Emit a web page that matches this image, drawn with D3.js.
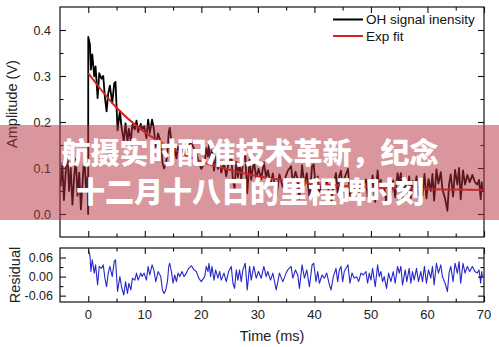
<!DOCTYPE html>
<html><head><meta charset="utf-8">
<script src="https://cdn.jsdelivr.net/npm/d3@7/dist/d3.min.js"></script>
<style>html,body{margin:0;padding:0;background:#fff;}svg{display:block;}</style>
</head><body>
<script>
// ---- data ----
const xTicks = [0,10,20,30,40,50,60,70];
const xMinor = [5,15,25,35,45,55,65];
const yTopTicks = [0.0,0.1,0.2,0.3,0.4];
const yTopMinor = [0.05,0.15,0.25,0.35];
const yTopLabels = ["0.0","0.1","0.2","0.3","0.4"];
const yBotTicks = [-0.06,0.0,0.06];
const yBotMinor = [-0.03,0.03];
const yBotLabels = ["-0.06","0.00","0.06"];
const legendNames = ["OH signal inensity","Exp fit"];
const titleLines = ["航摄实时配准技术革新，纪念","十二月十八日的里程碑时刻"];

const preT = [-4.9,-4.6,-4.3,-4.0,-3.7,-3.4,-3.1,-2.8,-2.5,-2.2,-1.9,-1.6,-1.3,-1.0,-0.7,-0.4,-0.15,-0.02];
const preV = [0.06,0.11,0.03,0.09,0.14,0.05,0.10,0.02,0.08,0.12,0.04,0.09,0.01,0.07,0.13,0.05,0.08,0.0];

const resT = [0,0.29,0.47,0.71,1.06,1.29,1.65,1.94,2.35,2.65,
2.94,3.24,3.53,3.82,4.24,4.59,4.82,5.18,5.59,5.88,
6.29,6.59,6.94,7.18,7.53,7.82,8.24,8.53,8.82,9.29,
9.53,9.88,10.29,10.59,10.88,11.29,11.59,11.94,12.35,12.82,
13.12,13.41,13.71,14.0,14.24,14.41,14.71,15.0,15.29,15.59,
15.88,16.18,16.59,16.94,17.35,17.76,18.24,18.71,19.12,19.53,
20.0,20.59,20.88,21.18,21.35,21.65,21.88,22.24,22.53,22.94,
23.24,23.53,24.0,24.41,24.82,25.29,25.59,25.88,26.18,26.47,
26.76,27.06,27.35,27.76,28.12,28.53,28.82,29.29,29.71,30.12,
30.59,31.06,31.47,31.76,32.24,32.65,
33.24,33.82,34.41,35.0,35.29,35.88,36.18,36.65,37.06,37.35,
37.82,38.24,38.65,39.12,39.59,39.88,40.29,40.59,40.88,41.35,
41.76,42.18,42.65,42.94,43.35,43.82,44.12,44.41,44.71,45.0,
45.29,45.59,45.94,46.29,46.65,47.06,47.47,47.82,48.24,48.65,
49.12,49.41,49.71,50.0,50.29,50.76,51.18,51.47,51.76,52.06,
52.35,52.76,53.12,53.53,53.94,54.29,54.71,55.0,55.29,55.59,
56.06,56.35,56.76,57.06,57.35,57.65,58.06,58.41,58.82,59.12,
59.47,59.82,60.18,60.59,60.88,61.18,61.59,61.94,62.35,62.65,
63.12,63.53,63.82,64.12,64.53,64.88,65.29,65.59,65.88,66.29,
66.65,67.06,67.47,67.94,68.41,68.82,69.12,69.41,69.59,69.71];

const resV = [0.084,0.068,0.016,0.053,0.011,0.037,-0.026,0.032,0.026,0.037,
-0.005,-0.032,0.011,0.032,0,0.047,0.053,-0.047,0,-0.032,
-0.058,-0.016,-0.053,-0.021,-0.042,-0.005,-0.011,0.011,-0.011,0.011,
0,0.011,-0.011,0.032,0.005,0.037,0.021,-0.016,0.016,0,
-0.042,-0.053,-0.042,-0.016,0.032,0.042,0.016,-0.021,0.005,-0.016,
0.011,0,0.016,0,0.011,0.026,0.034,0.021,0.016,-0.005,
-0.016,0,0.032,0.016,0.042,0,0.032,-0.011,0.021,-0.005,
0.016,-0.011,0.011,-0.016,0.016,0.032,-0.021,-0.037,0.021,-0.011,
0.021,-0.016,0.021,0.042,-0.042,0.032,-0.011,0.032,-0.005,0.016,
-0.005,0.032,0,0.016,-0.011,0.011,
-0.042,0.011,-0.016,0.011,0.021,0.032,-0.005,0.021,0.005,-0.037,
0.037,-0.005,0.021,-0.032,0.037,0.042,-0.016,0.016,-0.021,0.005,
-0.005,0.011,-0.026,-0.042,0,0.026,-0.016,0.021,0.032,-0.016,
0.016,0.026,0.037,-0.021,0.011,-0.005,0,-0.016,0.011,0.005,
0.016,-0.021,0.011,-0.011,0.026,-0.032,0.037,0,0.016,-0.016,
0,-0.037,0.011,-0.016,0.016,-0.021,0.032,0.011,0.032,-0.026,
0.021,-0.016,0.026,-0.021,0.016,-0.011,0.026,-0.016,0.016,-0.016,
0.032,-0.021,0.021,-0.005,0.032,-0.026,0.042,0.011,0.037,0,
-0.021,-0.047,0.011,0.032,-0.016,0.042,0.011,0.047,-0.021,0.042,
0.011,0.032,0.016,0.032,0.016,0.011,0.021,-0.021,0.016,0];

const postV = [0.385,0.369,0.314,0.347,0.299,0.321,0.252,0.306,0.294,0.300,
0.254,0.223,0.262,0.279,0.241,0.284,0.287,0.182,0.224,0.189,
0.158,0.197,0.156,0.185,0.160,0.194,0.184,0.203,0.178,0.196,
0.183,0.191,0.165,0.205,0.176,0.205,0.186,0.146,0.175,0.156,
0.112,0.099,0.107,0.132,0.178,0.187,0.159,0.120,0.144,0.121,
0.147,0.134,0.148,0.130,0.138,0.151,0.157,0.141,0.134,0.112,
0.098,0.112,0.143,0.125,0.151,0.108,0.139,0.094,0.125,0.098,
0.118,0.090,0.110,0.082,0.112,0.127,0.073,0.056,0.113,0.080,
0.111,0.074,0.110,0.130,0.045,0.118,0.074,0.116,0.078,0.098,
0.076,0.112,0.079,0.095,0.067,0.088,
0.034,0.086,0.058,0.084,0.094,0.104,0.066,0.092,0.075,0.033,
0.106,0.063,0.089,0.035,0.104,0.108,0.050,0.082,0.044,0.070,
0.059,0.075,0.038,0.021,0.063,0.089,0.046,0.083,0.094,0.046,
0.077,0.087,0.098,0.040,0.071,0.055,0.060,0.044,0.070,0.064,
0.075,0.038,0.069,0.047,0.084,0.026,0.095,0.058,0.074,0.042,
0.058,0.021,0.068,0.041,0.073,0.036,0.089,0.068,0.089,0.031,
0.077,0.040,0.082,0.035,0.072,0.045,0.082,0.040,0.072,0.039,
0.087,0.034,0.076,0.050,0.087,0.029,0.097,0.066,0.091,0.054,
0.033,0.007,0.065,0.086,0.038,0.096,0.064,0.100,0.032,0.095,
0.064,0.085,0.069,0.085,0.069,0.064,0.074,0.032,0.069,0.053];

const fitT = [0,5,10,15,20,25,30,35,40,45,50,55,60,65,70];
const fitV = [0.306,0.231,0.178,0.141,0.114,0.096,0.082,0.073,0.066,0.0615,0.058,0.0558,0.054,0.053,0.052];

// ---- layout ----
const W = 499, H = 347;
const L = 60, R = 484;
const topY0 = 7, topY1 = 237, botY0 = 248, botY1 = 302;
const FONT = "'Liberation Sans', Arial, sans-serif";

const svg = d3.select("body").append("svg").attr("width", W).attr("height", H);

const x = d3.scaleLinear().domain([-5, 70]).range([L, R]);
const yTop = d3.scaleLinear().domain([-0.05, 0.45]).range([topY1, topY0]);
const yBot = d3.scaleLinear().domain([-0.08, 0.09]).range([botY1, botY0]);

const defs = svg.append("defs");
defs.append("clipPath").attr("id","cTop").append("rect")
  .attr("x",L).attr("y",topY0).attr("width",R-L).attr("height",topY1-topY0);
defs.append("clipPath").attr("id","cBot").append("rect")
  .attr("x",L).attr("y",botY0).attr("width",R-L).attr("height",botY1-botY0);

// signal
const sig = preT.map((t,i)=>[t,preV[i]]).concat(resT.map((t,i)=>[t,postV[i]]));
svg.append("path").attr("clip-path","url(#cTop)")
  .attr("d", d3.line().x(d=>x(d[0])).y(d=>yTop(d[1]))(sig))
  .attr("fill","none").attr("stroke","#000").attr("stroke-width",1.8).attr("stroke-linejoin","round");

// fit
svg.append("path").attr("clip-path","url(#cTop)")
  .attr("d", d3.line().curve(d3.curveMonotoneX).x((t)=>x(t)).y((t,i)=>yTop(fitV[i]))(fitT))
  .attr("fill","none").attr("stroke","#d82020").attr("stroke-width",2);

// residual
svg.append("path").attr("clip-path","url(#cBot)")
  .attr("d", d3.line().x((t)=>x(t)).y((t,i)=>yBot(resV[i]))(resT))
  .attr("fill","none").attr("stroke","#2626cc").attr("stroke-width",1.1).attr("stroke-linejoin","round");

// frames
function frame(y0, y1){
  svg.append("rect").attr("x",L).attr("y",y0).attr("width",R-L).attr("height",y1-y0)
    .attr("fill","none").attr("stroke","#111").attr("stroke-width",1.2);
}
frame(topY0, topY1);
frame(botY0, botY1);

// axes with inward ticks (drawn with d3 axes)
function xAxes(y0, y1){
  const gb = svg.append("g").attr("transform",`translate(0,${y1})`)
    .call(d3.axisTop(x).tickValues(xTicks).tickSize(6).tickFormat(""));
  const gbm = svg.append("g").attr("transform",`translate(0,${y1})`)
    .call(d3.axisTop(x).tickValues(xMinor).tickSize(3.5).tickFormat(""));
  const gt = svg.append("g").attr("transform",`translate(0,${y0})`)
    .call(d3.axisBottom(x).tickValues(xTicks).tickSize(6).tickFormat(""));
  const gtm = svg.append("g").attr("transform",`translate(0,${y0})`)
    .call(d3.axisBottom(x).tickValues(xMinor).tickSize(3.5).tickFormat(""));
  [gb,gbm,gt,gtm].forEach(g=>{g.select(".domain").remove(); g.selectAll("line").attr("stroke","#111").attr("stroke-width",1.1);});
}
xAxes(topY0, topY1);
xAxes(botY0, botY1);

function yAxes(scale, major, minor){
  const a = svg.append("g").attr("transform",`translate(${L},0)`)
    .call(d3.axisRight(scale).tickValues(major).tickSize(6).tickFormat(""));
  const am = svg.append("g").attr("transform",`translate(${L},0)`)
    .call(d3.axisRight(scale).tickValues(minor).tickSize(3.5).tickFormat(""));
  const b = svg.append("g").attr("transform",`translate(${R},0)`)
    .call(d3.axisLeft(scale).tickValues(major).tickSize(6).tickFormat(""));
  const bm = svg.append("g").attr("transform",`translate(${R},0)`)
    .call(d3.axisLeft(scale).tickValues(minor).tickSize(3.5).tickFormat(""));
  [a,am,b,bm].forEach(g=>{g.select(".domain").remove(); g.selectAll("line").attr("stroke","#111").attr("stroke-width",1.1);});
}
yAxes(yTop, yTopTicks, yTopMinor);
yAxes(yBot, yBotTicks, yBotMinor);

// tick labels
svg.append("g").selectAll("text").data(yTopTicks).join("text")
  .attr("x", L-9).attr("y", d=>yTop(d)).attr("dy","0.36em")
  .attr("text-anchor","end").attr("font-family",FONT).attr("font-size",12.5).attr("fill","#222")
  .text((d,i)=>yTopLabels[i]);
svg.append("g").selectAll("text").data(yBotTicks).join("text")
  .attr("x", L-7).attr("y", d=>yBot(d)).attr("dy","0.36em")
  .attr("text-anchor","end").attr("font-family",FONT).attr("font-size",12.5).attr("fill","#222")
  .text((d,i)=>yBotLabels[i]);
svg.append("g").selectAll("text").data(xTicks).join("text")
  .attr("x", d=>x(d)).attr("y", 319)
  .attr("text-anchor","middle").attr("font-family",FONT).attr("font-size",13).attr("fill","#222")
  .text(d=>d);

// axis titles
svg.append("text").attr("x",(L+R)/2).attr("y",341).attr("text-anchor","middle")
  .attr("font-family",FONT).attr("font-size",14.5).attr("fill","#222").text("Time (ms)");
svg.append("text").attr("transform","translate(17,104) rotate(-90)").attr("text-anchor","middle")
  .attr("font-family",FONT).attr("font-size",14.5).attr("fill","#222").text("Amplitude (V)");
svg.append("text").attr("transform","translate(20,275) rotate(-90)").attr("text-anchor","middle")
  .attr("font-family",FONT).attr("font-size",14.5).attr("fill","#222").text("Residual");

// legend
const legColors = ["#000","#d82020"];
const leg = svg.append("g");
legendNames.forEach((n,i)=>{
  const yy = 19.5 + i*16.5;
  leg.append("line").attr("x1",333).attr("x2",363).attr("y1",yy).attr("y2",yy)
    .attr("stroke",legColors[i]).attr("stroke-width",2);
  leg.append("text").attr("x",366).attr("y",yy).attr("dy","0.36em")
    .attr("font-family",FONT).attr("font-size",13.5).attr("fill","#111").text(n);
});

// banner overlay
svg.append("rect").attr("x",0).attr("y",125).attr("width",W).attr("height",95)
  .attr("fill","#b4303c").attr("fill-opacity",0.5);
const tl = svg.append("g");
[164, 203].forEach((yy,i)=>{
  tl.append("text").attr("x",250).attr("y",yy).attr("text-anchor","middle")
    .attr("font-family","'Noto Sans CJK SC','Noto Sans CJK JP',sans-serif")
    .attr("font-weight",900).attr("font-size",29).attr("fill","#fff")
    .text(titleLines[i]);
});
</script>
</body></html>
